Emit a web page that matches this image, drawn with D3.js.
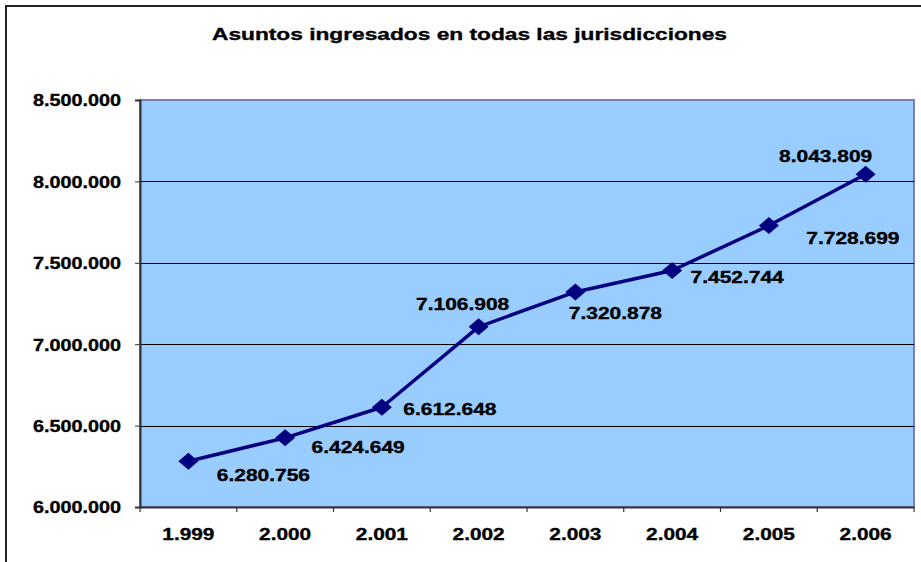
<!DOCTYPE html>
<html><head><meta charset="utf-8">
<script src="https://cdn.jsdelivr.net/npm/d3@7"></script>
<style>
html,body{margin:0;padding:0;background:#fff;}
svg{display:block;}
text{font-family:"Liberation Sans",Arial,sans-serif;font-weight:bold;fill:#000;stroke:#000;stroke-width:0.35px;}
</style></head>
<body><svg id="chart" width="921" height="562"></svg>
<script>
const title = "Asuntos ingresados en todas las jurisdicciones";
const years = ["1.999","2.000","2.001","2.002","2.003","2.004","2.005","2.006"];
const values = [6280756, 6424649, 6612648, 7106908, 7320878, 7452744, 7728699, 8043809];
const yTicks = [6000000, 6500000, 7000000, 7500000, 8000000, 8500000];
// label offsets relative to each point (styling)
const labelDx = [75, 73, 68, -16, 40, 65, 84, -40];
const labelDy = [20, 15, 8, -17, 27, 13, 18, -12];

const fmt = v => d3.format(",")(v).replace(/,/g, ".");
const svg = d3.select("#chart");
const m = {left:140, top:100, right:914, bottom:507};

function stretch(sel, k){
  sel.each(function(){
    const w = this.getComputedTextLength();
    d3.select(this).attr("textLength", w*k).attr("lengthAdjust","spacingAndGlyphs");
  });
}

// outer frame
svg.append("rect").attr("x",6).attr("y",6).attr("width",960).attr("height",600)
  .attr("fill","#fff").attr("stroke","#222").attr("stroke-width",2);

// title
svg.append("text").attr("x",469.5).attr("y",40).attr("text-anchor","middle")
  .style("font-size","17px").text(title)
  .each(function(){ d3.select(this).attr("textLength",515).attr("lengthAdjust","spacingAndGlyphs"); });

const x = d3.scaleBand().domain(years).range([m.left, m.right]);
const y = d3.scaleLinear().domain([6000000, 8500000]).range([m.bottom, m.top]);

// plot area
svg.append("rect").attr("x",m.left).attr("y",m.top).attr("width",m.right-m.left).attr("height",m.bottom-m.top)
  .attr("fill","#99CCFF").attr("stroke","#7C7CB8").attr("stroke-width",2);

// gridlines
svg.append("g").selectAll("line").data(yTicks.filter(t => t>6000000 && t<8500000)).join("line")
  .attr("x1",m.left).attr("x2",m.right).attr("y1",d=>Math.round(y(d))+0.5).attr("y2",d=>Math.round(y(d))+0.5)
  .attr("stroke","#000").attr("stroke-width",1);

// y axis
const yAxis = svg.append("g").attr("transform",`translate(${m.left},0)`)
  .call(d3.axisLeft(y).tickValues(yTicks).tickFormat(fmt).tickSize(5).tickPadding(14));
yAxis.select(".domain").attr("stroke","#333").attr("stroke-width",2);
yAxis.selectAll(".tick line").attr("stroke","#333");
yAxis.selectAll("text").style("font-size","16.5px").attr("dy","0.36em").call(stretch,1.2);

// x axis
const xAxis = svg.append("g").attr("transform",`translate(0,${m.bottom})`)
  .call(d3.axisBottom(x).tickSize(0).tickPadding(0));
xAxis.select(".domain").attr("stroke","#333").attr("stroke-width",2);
xAxis.selectAll("text").style("font-size","16.5px").attr("y",33).attr("dy",0).call(stretch,1.26);
// boundary ticks
const bounds = years.map(d => x(d)).concat([m.right]);
xAxis.selectAll("line.b").data(bounds).join("line").attr("class","b")
  .attr("x1",d=>d).attr("x2",d=>d).attr("y1",0).attr("y2",5).attr("stroke","#333").attr("stroke-width",1.2);

// line
const cx = (d,i) => x(years[i]) + x.bandwidth()/2;
const line = d3.line().x((d,i)=>cx(d,i)).y(d=>y(d));
svg.append("path").datum(values).attr("d",line).attr("fill","none")
  .attr("stroke","#000080").attr("stroke-width",3.5).attr("stroke-linejoin","round");

// markers
const hw = 10, hh = 8.5;
svg.append("g").selectAll("path").data(values).join("path")
  .attr("d",(d,i)=>{const X=cx(d,i),Y=y(d);return `M${X},${Y-hh}L${X+hw},${Y}L${X},${Y+hh}L${X-hw},${Y}Z`;})
  .attr("fill","#000080");

// data labels
svg.append("g").selectAll("text").data(values).join("text")
  .attr("x",(d,i)=>cx(d,i)+labelDx[i]).attr("y",(d,i)=>y(d)+labelDy[i])
  .attr("text-anchor","middle").style("font-size","16.5px").text(fmt)
  .call(stretch,1.27);
</script></body></html>
